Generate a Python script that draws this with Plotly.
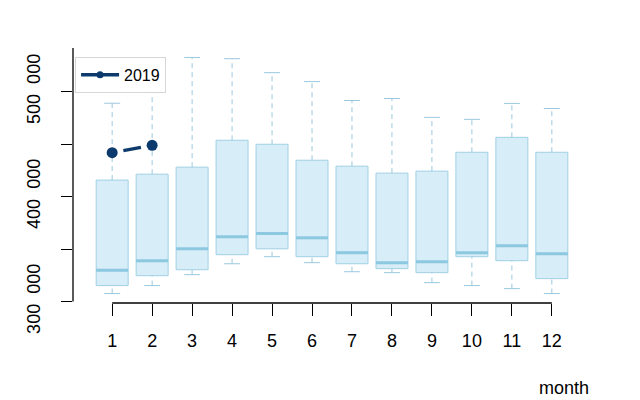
import plotly.graph_objects as go

months = list(range(1, 13))
upper = [488900, 515000, 532500, 531300, 518000, 509500, 491500, 493400, 475400, 473500, 488700, 483900]
q3 = [415700, 421300, 428000, 453600, 449800, 434600, 428900, 422300, 424200, 442200, 456400, 442200]
median = [329700, 338900, 350200, 361600, 364700, 360700, 346500, 337000, 337900, 346500, 353100, 345500]
q1 = [315200, 324600, 330300, 344600, 350200, 342700, 336000, 331300, 327500, 342700, 338900, 321800]
lower = [307600, 315200, 325600, 336000, 342700, 337000, 328400, 327500, 318000, 315200, 312300, 307600]

months_2019 = [1, 2]
values_2019 = [441800, 448800]

ytick_vals = [300000, 350000, 400000, 450000, 500000]
ytick_text = ["300\u2007000", "", "400\u2007000", "", "500\u2007000"]
xtick_text = [str(m) for m in months]

FONT = "Liberation Sans, Arial, sans-serif"
BOX_FILL = "rgb(215,237,247)"
BOX_LINE = "rgb(160,208,228)"
MED_COL = "rgb(140,200,224)"
WHISK_COL = "rgb(155,200,222)"
NAVY = "#0c3a6c"
BOX_W = 0.8
CAP_W = 0.4

fig = go.Figure()

fig.add_trace(go.Box(
    x=months, q1=q1, median=median, q3=q3,
    lowerfence=q1, upperfence=q3,
    width=BOX_W, whiskerwidth=0,
    fillcolor=BOX_FILL, line=dict(color=BOX_LINE, width=1),
    boxpoints=False, showlegend=False, hoverinfo="skip",
))

# dashed whiskers
wx, wy = [], []
for m, lo, a, b, hi in zip(months, lower, q1, q3, upper):
    wx += [m, m, None, m, m, None]
    wy += [lo, a, None, b, hi, None]
fig.add_trace(go.Scatter(x=wx, y=wy, mode="lines",
                         line=dict(color=WHISK_COL, width=1, dash="5px,4px"),
                         showlegend=False, hoverinfo="skip"))

# caps
cx, cy = [], []
for m, lo, hi in zip(months, lower, upper):
    cx += [m - CAP_W / 2, m + CAP_W / 2, None, m - CAP_W / 2, m + CAP_W / 2, None]
    cy += [lo, lo, None, hi, hi, None]
fig.add_trace(go.Scatter(x=cx, y=cy, mode="lines",
                         line=dict(color=WHISK_COL, width=1),
                         showlegend=False, hoverinfo="skip"))

# medians
mx, my = [], []
for m, md in zip(months, median):
    mx += [m - BOX_W / 2, m + BOX_W / 2, None]
    my += [md, md, None]
fig.add_trace(go.Scatter(x=mx, y=my, mode="lines",
                         line=dict(color=MED_COL, width=3),
                         showlegend=False, hoverinfo="skip"))

# 2019 series, R type="b" style (gapped segments)
f = 0.28
sx, sy = [], []
for i in range(len(months_2019) - 1):
    x0, x1 = months_2019[i], months_2019[i + 1]
    y0, y1 = values_2019[i], values_2019[i + 1]
    sx += [x0 + f * (x1 - x0), x1 - f * (x1 - x0), None]
    sy += [y0 + f * (y1 - y0), y1 - f * (y1 - y0), None]
fig.add_trace(go.Scatter(x=sx, y=sy, mode="lines",
                         line=dict(color=NAVY, width=3.5),
                         showlegend=False, hoverinfo="skip"))
fig.add_trace(go.Scatter(x=months_2019, y=values_2019, mode="markers",
                         marker=dict(color=NAVY, size=11),
                         showlegend=False))
# legend entry
fig.add_trace(go.Scatter(x=[None], y=[None], mode="lines+markers", name="2019",
                         line=dict(color=NAVY, width=3.5),
                         marker=dict(color=NAVY, size=7)))

# axis lines (R style)
fig.add_shape(type="line", xref="x", yref="paper", x0=1, x1=12, y0=0, y1=0,
              line=dict(color="black", width=1.3))
fig.add_shape(type="line", xref="paper", yref="y", x0=0, x1=0, y0=300000, y1=541500,
              line=dict(color="black", width=1.3))

fig.add_annotation(text="month", xref="paper", yref="paper", x=0.948, y=-0.333,
                   xanchor="center", yanchor="middle",
                   showarrow=False, font=dict(size=18, color="black", family=FONT))

fig.update_layout(
    width=640, height=400,
    margin=dict(l=65, r=57, t=40, b=105),
    paper_bgcolor="white", plot_bgcolor="white",
    font=dict(family=FONT, color="black"),
    xaxis=dict(range=[0.02, 12.98], showgrid=False, zeroline=False, showline=False,
               tickmode="array", tickvals=months, ticktext=xtick_text,
               ticks="outside", ticklen=12, tickwidth=1.3, tickcolor="black",
               tickfont=dict(size=18), ticklabelstandoff=9),
    yaxis=dict(range=[298600, 541500], showgrid=False, zeroline=False, showline=False,
               tickmode="array", tickvals=ytick_vals, ticktext=ytick_text,
               ticks="outside", ticklen=11, tickwidth=1.3, tickcolor="black",
               tickangle=-90, tickfont=dict(size=18), ticklabelstandoff=14),
    legend=dict(x=0.004, y=0.965, xanchor="left", yanchor="top",
                bgcolor="white", bordercolor="rgb(215,215,215)", borderwidth=1,
                itemwidth=38,
                font=dict(size=16, color="black")),
)

fig.write_html("out.html")
